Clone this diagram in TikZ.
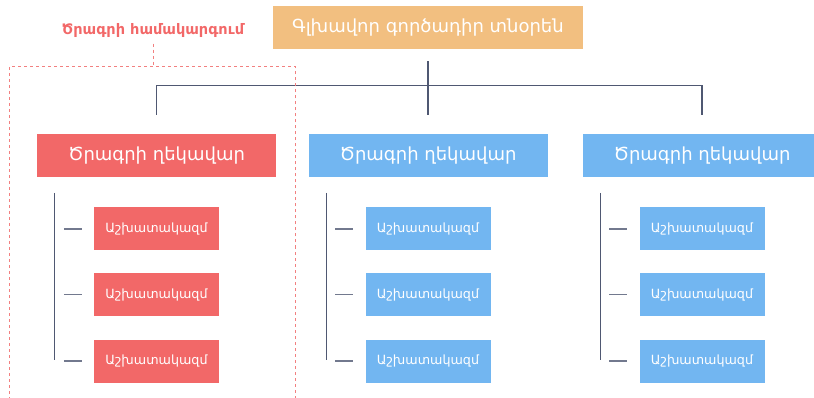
\documentclass[tikz,border=0pt]{standalone}
\usepackage{fontspec}
\setmainfont{DejaVu Sans}
\usetikzlibrary{positioning}
\definecolor{ceoorange}{HTML}{F2BF80}
\definecolor{pmred}{HTML}{F26868}
\definecolor{pmblue}{HTML}{72B6F1}
\definecolor{linegray}{HTML}{4F5872}
\definecolor{groupred}{HTML}{F28080}

\begin{document}
\begin{tikzpicture}[x=1pt,y=-1pt,
    box/.style={rectangle,text=white,inner sep=0pt,minimum height=43pt},
    ceobox/.style={box,fill=ceoorange,minimum width=310pt,font=\fontsize{18}{21}\selectfont},
    pmbox/.style={box,minimum width=239pt,font=\fontsize{18}{21}\selectfont},
    staffbox/.style={box,minimum width=125pt,font=\fontsize{12.7}{15}\selectfont},
    conn/.style={draw=linegray,line width=1.2pt},
    tick/.style={draw=linegray!80,line width=1.3pt},
    grpline/.style={draw=groupred,dashed,line width=1pt}]
  \path[use as bounding box,clip] (0,0) rectangle (814,398);
  % top
  \node[ceobox] (ceo) at (428,27.5) {Գլխավոր գործադիր տնօրեն};
  \node[text=pmred,font=\bfseries\fontsize{14.5}{17}\selectfont] (grplabel) at (153,31) {Ծրագրի համակարգում};
  \coordinate (grptop) at (153,67);
  % managers
  \node[pmbox,fill=pmred] (pm1) at (156.5,155.5) {Ծրագրի ղեկավար};
  \node[pmbox,fill=pmblue] (pm2) at (428,155.5) {Ծրագրի ղեկավար};
  \node[pmbox,fill=pmblue] (pm3) at (702,155.5) {Ծրագրի ղեկավար};
  % staff
  \foreach \col/\clr in {1/pmred,2/pmblue,3/pmblue} {
    \foreach \row/\yy in {1/229,2/294.5,3/361} {
      \node[staffbox,fill=\clr] (st\col\row) at (pm\col.center |- 0,\yy) {Աշխատակազմ};
      \draw[tick] ([xshift=-30pt]st\col\row.west) -- ([xshift=-12pt]st\col\row.west);
    }
    \draw[conn] ([xshift=-39pt]st\col1.west |- 0,193) -- ([xshift=-39pt]st\col3.west |- 0,360);
  }
  % connectors
  \draw[conn] ([yshift=-12pt]ceo.south) -- ([yshift=19pt]pm2.north);
  \draw[conn] ([yshift=19pt]pm1.north) |- ([yshift=48pt]pm3.north) -- ([yshift=19pt]pm3.north);
  % group frame
  \draw[grpline] (9.5,67) rectangle (295,420);
  \draw[grpline] ([yshift=-2pt]grplabel.south) -- (grptop);
\end{tikzpicture}
\end{document}
